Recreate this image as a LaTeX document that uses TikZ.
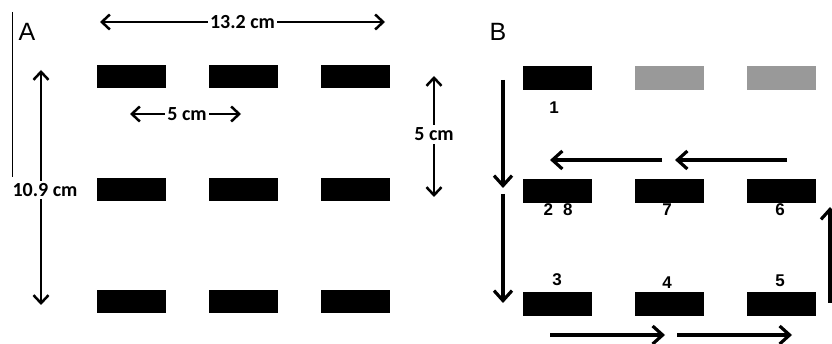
\documentclass[tikz,border=0pt]{standalone}
\usepackage{fontspec}
\setmainfont{Liberation Sans}
\newfontfamily\dimfont{Carlito}
\usetikzlibrary{arrows.meta}

\newcommand*{\picw}{832}
\newcommand*{\pich}{344}

\begin{document}
\begin{tikzpicture}
[
	x=1pt,y=-1pt,
	bed/.style={rectangle,fill=black,inner sep=0pt,minimum width=69pt,minimum height=23.5pt},
	spare/.style={bed,fill=black!40},
	dimarrow/.style={line width=2.5pt,{Straight Barb[length=8pt,width=15pt]}-{Straight Barb[length=8pt,width=15pt]}},
	dimlabel/.style={font=\dimfont\bfseries\fontsize{20}{22}\selectfont,fill=white,inner sep=2.5pt},
	route/.style={line width=3.2pt,-{Straight Barb[length=10pt,width=18pt]}},
	visit/.style={font=\bfseries\fontsize{17}{19}\selectfont,inner sep=0pt},
	panel/.style={font=\fontsize{25}{28}\selectfont,inner sep=0pt}
]

	\useasboundingbox (0,0) rectangle (\picw,\pich);

	% panel A
	\draw[line width=0.8pt] (12,12) -- (12,177);
	\node[panel] (lblA) at (27,32) {A};

	\foreach \r/\y in {1/76.5,2/189.5,3/301.5}
		\foreach \c/\x in {1/131.5,2/243.5,3/355.5}
			\node[bed] (a\r\c) at (\x,\y) {};

	\coordinate (wl) at (100,22);
	\coordinate (wr) at (385,22);
	\draw[dimarrow] (wl) -- node[dimlabel] (width) {13.2 cm} (wr);

	\coordinate (hl) at (130,114);
	\coordinate (hr) at (241,114);
	\draw[dimarrow] (hl) -- node[dimlabel,xshift=1.5pt] (gap) {5 cm} (hr);

	\coordinate (vt) at (434,76);
	\coordinate (vb) at (434,197);
	\draw[dimarrow] (vt) -- node[dimlabel,yshift=2pt] (rowgap) {5 cm} (vb);

	\coordinate (lt) at (41,70);
	\coordinate (lb) at (41,305);
	\draw[dimarrow] (lt) -- (lb);
	\node[dimlabel] (length) at (45,190) {10.9 cm};

	% panel B
	\node[panel] (lblB) at (498,32) {B};

	\foreach \r/\y in {1/78,2/191,3/304}
		\foreach \c/\x in {1/557,2/669,3/781}
			\node[bed] (b\r\c) at (\x,\y) {};
	\node[spare] at (b12) {};
	\node[spare] at (b13) {};

	\node[visit] (v1) at (554,108) {1};
	\node[visit] (v28) at (558,210) {2\hspace{10pt}8};
	\node[visit] (v7) at (667,210) {7};
	\node[visit] (v6) at (780,210) {6};
	\node[visit] (v3) at (557,280) {3};
	\node[visit] (v4) at (667,283) {4};
	\node[visit] (v5) at (780,281) {5};

	\coordinate (s1) at (503,80);
	\coordinate (s2) at (503,188);
	\coordinate (s3) at (503,194);
	\coordinate (s4) at (503,303);
	\draw[route] (s1) -- (s2);
	\draw[route] (s3) -- (s4);

	\coordinate (u1) at (550,335);
	\coordinate (u2) at (665,335);
	\coordinate (u3) at (677,335);
	\coordinate (u4) at (792,335);
	\draw[route] (u1) -- (u2);
	\draw[route] (u3) -- (u4);

	\coordinate (r1) at (830,303);
	\coordinate (r2) at (830,207);
	\draw[route] (r1) -- (r2);

	\coordinate (t1) at (787,160);
	\coordinate (t2) at (675,160);
	\coordinate (t3) at (662,160);
	\coordinate (t4) at (550,160);
	\draw[route] (t1) -- (t2);
	\draw[route] (t3) -- (t4);

\end{tikzpicture}
\end{document}
